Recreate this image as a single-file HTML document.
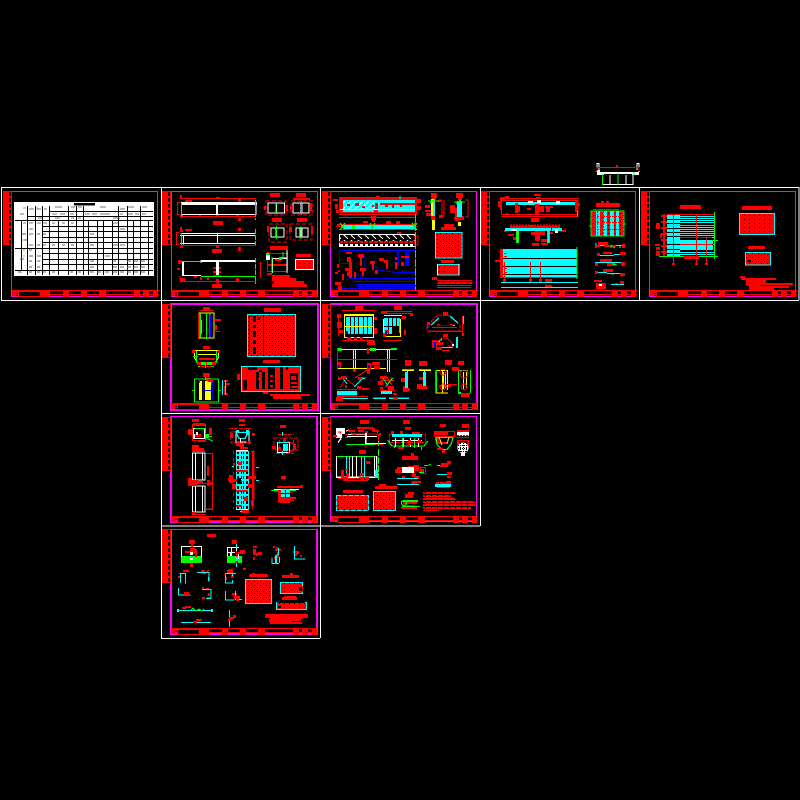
<!DOCTYPE html>
<html><head><meta charset="utf-8"><title>CAD sheets</title>
<style>html,body{margin:0;padding:0;background:#000}svg{display:block}</style></head>
<body>
<svg xmlns="http://www.w3.org/2000/svg" width="800" height="800" viewBox="0 0 800 800" shape-rendering="crispEdges" fill="none">
<defs>
<pattern id="rt" width="6" height="4" patternUnits="userSpaceOnUse"><rect width="6" height="4" fill="#f00"/><rect x="5" y="3" width="1" height="1" fill="#000"/><rect x="2" y="1" width="1" height="1" fill="#000"/></pattern>
<pattern id="rd" width="5" height="4" patternUnits="userSpaceOnUse"><rect width="5" height="4" fill="#f00"/><rect x="4" y="3" width="1" height="1" fill="#000"/></pattern>
<pattern id="tx" width="6" height="3" patternUnits="userSpaceOnUse"><rect width="6" height="2" fill="#f00"/><rect x="5" width="1" height="1" fill="#000"/></pattern>
<pattern id="st" width="4" height="6" patternUnits="userSpaceOnUse"><rect width="4" height="6" fill="#f00"/><rect x="1" y="1" width="2" height="4" fill="#000"/></pattern>
<pattern id="ha" width="6" height="6" patternUnits="userSpaceOnUse"><rect width="6" height="6" fill="#0ff"/><path d="M0 6L6 0" stroke="#fff" stroke-width="1.2"/></pattern>
<pattern id="hw" width="7" height="5" patternUnits="userSpaceOnUse"><path d="M1 0L5 4" stroke="#fff" stroke-width="1.2"/></pattern>
<pattern id="gc" width="5" height="5" patternUnits="userSpaceOnUse"><rect width="5" height="5" fill="#0ff"/><rect x="1" y="1" width="3" height="3" fill="#000"/></pattern>
<g id="f">
<rect x="-9" y="0" width="5" height="54" fill="#f00"/>
<rect x="-4" y="0" width="4" height="54" fill="url(#st)"/>
<path d="M0 99.500H147M0 103.500H147" stroke="#f00"/>
<path fill="#f00" d="M0 100h8v2h-4v3h-4zM29 100h9v6h-9zM51 100h6v6h-6zM69 100h6v6h-6zM87 100h7v6h-7zM122 100h6v6h-6zM131 100h6v6h-6zM141 100h5v6h-5z"/>
<rect x="6.500" y="100.500" width="22" height="5" fill="#000" stroke="#f00"/>
</g>
</defs>
<rect width="800" height="800" fill="#000"/>

<!-- bridge -->
<path d="M597 163v9M599 163v7M637 163v7M639 163v9M597 163.500h2M637 163.500h2M602 184.500h31M610 175v9M626 175v9M633 175v10" stroke="#fff"/>
<path fill="#fff" d="M597 170h3v5h-3zM597 172h7v3h-7zM632 172h7v3h-7zM604 172h28v2h-28z"/>
<path d="M597 167.500H639M597 167v4M639 167v4" stroke="#f00" stroke-width="1.2"/>
<path d="M602.500 174v11M618 173v12M634 172v3" stroke="#0f0" stroke-width="1.3"/>
<path fill="#f00" d="M616 165h2v2h-2z"/>

<!-- frames -->
<path d="M1 187.500H799M1 300.500H799M161 413.500H480M161 526H480M161 638.500H320M1.500 187V300M161.500 187V638M320.500 187V638M480.500 187V526M639.500 187V300M799 187V300" stroke="#fff" stroke-width="1"/>
<path fill="#f0f" fill-rule="evenodd" d="M11 191H158V297H11zM12 192V296H157V192zM171 191H318V297H171zM172 192V296H317V192zM330 191H477V297H330zM331 192V296H476V192zM489 191H636V297H489zM490 192V296H635V192zM649 191H796V297H649zM650 192V296H795V192zM170 303H319V411H170zM172 305V409H317V305zM330 303H478V410H330zM331 305V409H476V305zM170 416H318V523H170zM172 417V521H316V417zM330 416H477V522H330zM331 417V521H476V417zM170 529H318V635H170zM172 530V633H316V530z"/>
<use href="#f" x="12" y="191"/><use href="#f" x="171" y="191"/><use href="#f" x="331" y="191"/><use href="#f" x="490" y="191"/><use href="#f" x="650" y="191"/>
<use href="#f" x="171" y="304"/><use href="#f" x="331" y="304"/>
<use href="#f" x="171" y="417"/><use href="#f" x="331" y="417"/>
<use href="#f" x="171" y="529"/>

<!-- sheet 1 table -->
<rect x="14" y="202" width="140" height="74" fill="#fff"/>
<rect x="74" y="203" width="21" height="2.400" fill="#000"/>
<path d="M15 220.500H153M43 226.500H153M43 231.500H153M43 237.500H153M43 242.500H153M15 248.500H153M43 253.500H153M43 259.500H153M43 264.500H153M15 270.500H153M49 211.500H153M27 216.500H153" stroke="#000" stroke-width="1"/>
<path d="M27.500 206V275M35.500 206V275M42.500 206V275M49.500 206V275M58.500 220V275M68.500 206V275M76.500 206V275M83.500 206V275M88.500 220V275M97.500 220V275M103.500 220V275M112.500 220V275M118.500 206V275M127.500 206V275M133.500 220V275M140.500 206V275M148.500 220V275M21.500 220V270" stroke="#000" stroke-width="1"/>
<path d="M29 209h5M37 209h4M44 209h3M55 207h7M71 207h4M78 207h4M100 207h6M120 209h5M128 207h6M142 207h5M52 214h5M60 214h5M70 214h4M85 214h5M92 214h5M100 214h5M105 214h5M120 214h3M128 214h5M135 214h4M142 214h4M38 218h4M55 218h5M71 218h3M78 218h3M113 218h7M20 214h4M23 223h3M29 223h4M37 223h4M43 223h4M52 223h3M62 223h3M71 223h3M113 223h5" stroke="#777" stroke-width="1"/>
<path d="M22 234h4M29 229h4M29 234h4M37 234h3M43 234h3M90 234h4M120 229h5M24 240h3M29 245h4M37 245h3M43 245h3M52 245h3M62 245h3M71 245h3M90 245h4M113 245h5M120 245h5M29 250h3M29 256h4M37 256h4M105 256h5M20 259h4M29 261h3M37 261h3M90 261h4M113 261h3M127 261h4M134 261h4M141 261h4M29 267h3M37 267h3M90 267h4M113 267h4M120 267h4M127 267h4M134 267h4M141 267h4M18 272h4M29 272h3M37 272h3M43 272h3M52 272h3M70 272h3M78 272h3M90 272h4M97 272h4M105 272h4M113 272h4M120 272h4M127 272h4M134 272h4M141 272h4" stroke="#666" stroke-width="1"/>
<path d="M23 208h3M36 208h2M46 229h1M22 240h2M23 250h2M23 256h2" stroke="#e90" stroke-width="1.200"/>

<!-- sheet 2 -->
<path d="M181 202h76v3h-76z" fill="#fff"/>
<rect x="181.500" y="203" width="74.500" height="11.500" stroke="#fff"/>
<path d="M217 204v10.500" stroke="#fff" stroke-width="2"/>
<path d="M180 198.500H256M181 216.500H256M177.500 202V214M177 202.500h3M177 214.500h3M180 233.500H256M181 245.500H256M176.500 232V244M176 232.500h3M176 244.500h3M180 281.500H256M260.500 262V278M180 276v5" stroke="#f00"/>
<path fill="#f00" d="M213 221h10v4h-10zM216 197h4v2h-4zM238 199h3v3h-3zM185 200h7v2h-7zM180 215h3v3h-3zM199 215h2v2h-2zM216 215h3v2h-3zM236 215h3v2h-3zM238 218h3v3h-3zM180 195h2v3h-2zM212 249h10v4h-10zM238 228h3v3h-3zM180 230h3v2h-3zM185 229h7v2h-7zM180 246h3v2h-3zM216 246h3v2h-3zM238 247h3v4h-3zM180 227h2v3h-2zM212 284h10v4h-10zM213 267h8v2h-8zM213 271h8v2h-8zM213 275h8v2h-8zM180 278h5v4h-5zM194 276h3v2h-3zM200 277h2v3h-2zM207 277h2v3h-2zM216 279h3v4h-3zM236 278h3v3h-3zM178 260h3v4h-3zM177 268h3v2h-3z"/>
<path d="M181 233.500h75M180 235.500h76M183.500 235v9.500M180 243.500h76M217.500 233v11" stroke="#fff"/>
<path fill="#fff" d="M201 260h55v2h-55zM182 262h2v14h-2zM216 262h3v13h-3z"/>
<path d="M183 275.500h18M201 260v3" stroke="#fff"/>
<path d="M181 261.500h19" stroke="#0f0" stroke-width="1.400"/><path d="M201 276.500h55" stroke="#0f0"/>
<path d="M181.500 203v13M181.500 233v12" stroke="#0f0" stroke-width="1.200"/>
<path d="M255.500 200v20M255.500 229v16M255.500 258v26" stroke="#0f0" stroke-width="1" stroke-dasharray="5 1"/>
<!-- sections -->
<rect x="268" y="203" width="8" height="10" stroke="#fff" stroke-width="1.200"/><rect x="276.500" y="203" width="8" height="10" stroke="#fff" stroke-width="1.200"/>
<rect x="293" y="203" width="8" height="10" stroke="#fff" stroke-width="1.200"/><rect x="302" y="203" width="7" height="10" stroke="#fff" stroke-width="1.200"/>
<rect x="271" y="228" width="5" height="9" stroke="#fff"/><rect x="276" y="228" width="8" height="9" stroke="#fff" stroke-width="1.200"/>
<rect x="296" y="228" width="4" height="9" stroke="#fff"/><rect x="302" y="228" width="6" height="9" stroke="#fff" stroke-width="1.200"/>
<path d="M276 203v10M301.500 201v14M276.500 226v13M301 226v13" stroke="#0f0" stroke-width="1.200"/>
<path d="M266 201H286V215H266zM291 201H313V215H291zM269 224H287V242H269zM290 224H312V240H290z" stroke="#f00" stroke-dasharray="4 2"/>
<path fill="#f00" d="M270 193h10v4h-10zM296 193h10v4h-10zM293 198h17v2h-17zM272 218h10v4h-10zM297 218h10v4h-10zM264 206h2v4h-2zM290 206h3v4h-3zM267 226h2v6h-2zM289 227h3v5h-3zM311 226h2v8h-2zM286 205h2v6h-2zM310 203h2v8h-2z"/>
<!-- detail -->
<path fill="#f00" d="M270 246h18v4h-18zM267 252h3v3h-3zM267 264h20v2h-20zM275 259h6v2h-6z"/><path d="M267 253.500h20M287.500 252v19M267.500 255v17M267 271.500h20" stroke="#f00"/>
<path d="M272 258.500h15M272.500 258v15M287 250v23" stroke="#fff"/><path d="M272 257v16M279 257.500h8M283 252v7" stroke="#0f0" stroke-width="1.300"/><rect x="266" y="255" width="4" height="5" fill="#fff"/>
<path fill="#0f0" d="M266 253h3v2h-3zM279 258h3v2h-3z"/>
<rect x="296" y="260" width="17" height="9" fill="url(#rd)"/><rect x="295.500" y="259.500" width="18" height="10" stroke="#fff"/>
<path fill="#f00" d="M296 254h15v3h-15zM267 273h5v2h-5zM272 275h18v3h-18zM272 278h24v3h-24zM274 281h30v3h-30zM272 284h35v3h-35z"/>

<!-- sheet 3 -->
<rect x="339" y="197" width="78" height="18" fill="#f00"/>
<rect x="343" y="200" width="72" height="12" fill="#0ff"/>
<rect x="343" y="201" width="36" height="9" fill="url(#ha)"/>
<path fill="#f00" d="M375 203h3v7h-3zM380 203h35v2h-35zM385 205h3v2h-3zM392 205h2v3h-2zM400 205h2v2h-2zM347 204h3v2h-3zM355 203h4v3h-4zM362 206h3v2h-3zM372 205h2v2h-2zM376 196h4v2h-4zM374 210h4v3h-4zM333 199h5v2h-5zM335 204h3v5h-3zM336 210h3v3h-3zM417 199h4v4h-4zM417 206h4v4h-4z"/>
<path d="M340 209.500h75" stroke="#fff" stroke-width="1.400"/><path d="M339 213.500h76M339 216h78" stroke="#000" stroke-width="1"/>
<path d="M339 217.500h76" stroke="#f00"/><path d="M345.500 200v12M400 196v3" stroke="#0ff"/>
<path fill="#f00" d="M371 216h5v4h-5zM372 220h3v2h-3zM386 221h5v3h-5zM363 221h5v2h-5zM396 221h4v3h-4zM337 224h3v2h-3z"/>
<path d="M340 224.500H417M339 229.500H417M336 226.500H418" stroke="#f00"/>
<rect x="343" y="225" width="72" height="4" fill="#0ff"/><rect x="352" y="225" width="3" height="4" fill="#0f0"/>
<path d="M340 223l5 7M345 223l-5 7M375 223l-5 7M370 223l5 7M417 223l-5 7M412 223l5 7" stroke="#0f0" stroke-width="1.200"/>
<rect x="339.500" y="234.500" width="76" height="12" stroke="#fff"/>
<rect x="340" y="235" width="75" height="6" fill="url(#hw)"/>
<path d="M339 242h77" stroke="#f00" stroke-width="2" stroke-dasharray="4 1"/><path d="M340 245h76" stroke="#fff" stroke-width="2" stroke-dasharray="3 2"/>
<path d="M415 236h3v9h-3z" stroke="#f00"/><path fill="#f00" d="M397 232h4v2h-4z"/>
<!-- blue -->
<path d="M339 250.500H415M339.500 250v13M393 272.500H415M350 278.500H415M353 281.500H415M355 284.500H415M357 286.500H415M336 288.500H415M339 263.500h10M365 256v12M372 262l6 8 15 2M351 270l10 7" stroke="#00f"/>
<path fill="#00f" d="M405 252h4v14h-4zM397 252h2v14h-2z"/>
<path fill="#f00" d="M346 252h6v2h-6zM358 254h6v4h-6zM360 258h2v8h-2zM347 257h4v5h-4zM349 262h3v6h-3zM370 261h5v3h-5zM372 264h2v6h-2zM379 258h5v3h-5zM384 260h4v3h-4zM386 263h2v6h-2zM395 257h2v3h-2zM395 262h2v7h-2zM401 256h8v2h-8zM345 268h6v3h-6zM347 272h3v4h-3zM335 272h3v2h-3zM360 268h6v3h-6zM362 271h2v5h-2zM338 270h2v2h-2zM342 274h2v6h-2zM349 268h3v10h-3zM335 282h6v3h-6zM337 264h2v4h-2zM338 286h4v4h-4zM354 272h2v6h-2zM375 270h3v4h-3zM401 262h3v4h-3z"/>
<path d="M415.500 214V290" stroke="#0f0" stroke-width="1" stroke-dasharray="8 1"/><path d="M415 225v-3" stroke="#0f0"/>
<!-- column sections -->
<path fill="#f00" d="M431 193h6v5h-6zM432 198h4v2h-4zM456 193h7v5h-7zM458 198h4v2h-4zM425 205h5v3h-5zM425 210h6v2h-6zM426 213h5v3h-5zM450 205h5v3h-5zM450 208h7v5h-7zM455 213h4v8h-4zM439 215h4v3h-4zM438 200h3v2h-3zM454 217h4v2h-4zM431 204h2v14h-2zM456 216h8v4h-8z"/>
<rect x="431" y="199" width="4" height="19" fill="#ff0"/><rect x="432" y="218" width="3" height="12" fill="#ff0"/><rect x="431" y="216" width="4" height="4" fill="#f00"/>
<rect x="433" y="201" width="2" height="15" fill="#0ff"/>
<rect x="457" y="201" width="5" height="16" fill="#0ff"/><rect x="458" y="222" width="3" height="4" fill="#ff0"/>
<path d="M428 201h11M430 203l5-4M454 202h11M456 204l5-4" stroke="#0f0" stroke-width="1.200"/>
<path d="M442 200h-3M442 200v17M442 217h-3M465 200h3v17h-3M444 200V217" stroke="#f00"/>
<rect x="435.500" y="232.500" width="26.500" height="25.500" fill="url(#rt)" stroke="#0ff" stroke-width="1"/>
<path fill="#f00" d="M441 227h15v3h-15zM444 224h10v3h-10zM441 260h13v3h-13zM432 277h5v3h-5z"/>
<rect x="437.500" y="264.500" width="21.500" height="10.500" fill="url(#rd)" stroke="#0ff"/>
<path d="M437.500 264v11M459 264v11" stroke="#fff"/>
<path fill="url(#tx)" d="M437 280h35v4h-35z"/><path d="M437 285.500h34M437 287.500h34" stroke="#f00"/>

<!-- sheet 4 -->
<path d="M501 198.500H578M501 200.500H578M501 214.500H578M501 216.500H578M501.500 198v17M578 198v17" stroke="#f00"/>
<rect x="506" y="202" width="71" height="3" fill="#0ff"/>
<path fill="#fff" d="M528 201h5v2h-5zM537 200h4v3h-4zM556 201h4v3h-4z"/>
<path fill="#f00" d="M500 197h5v4h-5zM498 201h3v6h-3zM536 197h5v2h-5zM534 194h7v2h-7zM535 204h4v10h-4zM539 206h5v6h-5zM545 206h8v2h-8zM546 208h4v4h-4zM527 208h4v2h-4zM517 206h3v6h-3zM575 200h3v12h-3zM578 203h2v3h-2zM505 196h4v2h-4zM515 203h3v10h-3zM500 204h2v6h-2zM506 213h2v2h-2z"/>
<path d="M577.500 211v6" stroke="#0f0" stroke-width="1.200"/>
<path fill="#f00" d="M531 218h8v4h-8zM530 225h5v3h-5zM531 232h6v3h-6zM535 229h10v6h-10zM510 226h50v2h-50zM508 234h6v2h-6zM504 230h3v2h-3zM513 237h6v3h-6zM532 243h7v3h-7zM535 235h5v6h-5zM541 239h8v3h-8zM541 243h7v2h-7zM547 232h6v2h-6zM561 230h5v2h-5z"/>
<rect x="505" y="228" width="46" height="3" fill="#0ff"/><rect x="511" y="229" width="6" height="2" fill="#fff"/>
<rect x="552" y="228" width="10" height="3" fill="#0ff"/><rect x="555" y="229" width="3" height="4" fill="#fff"/>
<path d="M510 226h51" stroke="#f00" stroke-width="3" stroke-dasharray="2 1"/>
<path d="M517.500 231v12M548.500 231v12" stroke="#0f0" stroke-width="3"/><path d="M517.500 231v11M548.500 231v11" stroke="#0ff"/>
<rect x="501" y="249" width="76" height="28" fill="#0ff"/>
<path d="M502 258.500H577M502 266.500H577M502 274.500H577" stroke="#000" stroke-width="1"/>
<rect x="500" y="249" width="3" height="28" fill="#f00"/><path d="M504 253.500h3M504 256.500h3M504 268.500h3M504 272.500h3M500 277.500H577" stroke="#f00"/>
<path d="M577 247V279" stroke="#0f0" stroke-width="1.200"/>
<path d="M504.500 262v18M530.500 262v18M540.500 262v18" stroke="#f00"/>
<path fill="#f00" d="M495 260h8v2h-8zM503 279h3v3h-3zM529 279h3v3h-3zM539 279h3v3h-3zM545 279h7v3h-7zM545 285h7v3h-7z"/>
<path d="M501 282.500H578M501 287.500H578" stroke="#0ff" stroke-width="1"/>
<rect x="591" y="211" width="33" height="25" fill="url(#rt)" stroke="#0f0" stroke-width="1.200"/>
<path fill="#0ff" d="M596 211h4v25h-4zM603 211h4v25h-4zM610 211h4v25h-4zM616 211h3v25h-3z"/>
<path d="M591 216.500H624M591 222.500H624M591 229.500H624M597.500 211v25M603.500 211v25M609.500 211v25M615.500 211v25" stroke="#f00" stroke-dasharray="2 1"/>
<path fill="#f00" d="M596 203h24v4h-24zM593 209h26v1h-26zM601 201h3v2h-3zM606 201h3v2h-3z"/>
<path d="M589 226h3M623 224h3" stroke="#0f0"/>
<path d="M596 245.500H625M598 255.500h16M614 254.500h11M595 262.500H625M595 272.500h12M607 273.500h18M620 245v3M596 243v5" stroke="#0ff" stroke-width="1"/>
<path fill="#f00" d="M598 242h10v3h-10zM596 245h4v2h-4zM622 244h3v4h-3zM604 245h12v2h-12zM603 252h9v2h-9zM597 253h3v3h-3zM620 252h6v3h-6zM600 259h12v3h-12zM607 263h8v3h-8zM595 263h3v3h-3zM621 262h4v4h-4zM603 269h10v3h-10zM595 271h3v3h-3zM620 273h5v3h-5zM594 280h8v2h-8zM596 283h10v6h-10zM615 283h3v2h-3zM620 281h4v3h-4z"/>
<path d="M611 246l4 2M611 274h3M612 264l5 1M611 245v3" stroke="#0f0"/>
<path d="M611 284.500H624" stroke="#0ff" stroke-width="1"/><path fill="#fff" d="M599 284h3v2h-3z"/>

<!-- sheet 5 -->
<rect x="667" y="214" width="47" height="42" fill="#000"/>
<rect x="667" y="214" width="13" height="42" fill="#0ff"/>
<rect x="667" y="240" width="46" height="10" fill="#0ff"/>
<path d="M680 216.500H714M680 218.500H714M680 220.500H714M680 222.500H714M680 227.500H714M680 229.500H714M680 231.500H714M680 233.500H714M680 235.500H714M680 237.500H714M680 244.500H714M680 252.500H714M680 254.500H714" stroke="#0ff" stroke-width="1"/>
<path d="M667 219.500H680M667 223.500H680M667 228.500H680M667 232.500H680M667 236.500H680M667 244.500H713M667 249.500H680M667 253.500H680" stroke="#000" stroke-width="1"/>
<path d="M661 214.500H714M673.500 214V264M696.500 214V264M706.500 238V264M680 237.500H712M680 244.500H712" stroke="#f00" stroke-width="1"/>
<rect x="661" y="214" width="6" height="43" fill="url(#st)"/>
<path d="M714.500 212V259" stroke="#0f0" stroke-width="1"/><path d="M667 225.500H714M659 256.500H718M712 240.500h6" stroke="#0f0" stroke-width="1"/>
<path fill="#f00" d="M680 205h21v4h-21zM656 223h4v6h-4zM660 234h2v4h-2zM655 244h5v2h-5zM656 247h4v3h-4zM656 251h4v5h-4zM684 256h15v3h-15zM672 263h3v2h-3zM695 263h3v2h-3zM705 263h3v2h-3z"/>
<rect x="739.500" y="213.500" width="35" height="21" fill="url(#rd)" stroke="#0ff" stroke-width="1"/>
<path fill="#f00" d="M742 206h30v4h-30zM748 246h17v3h-17zM740 276h5v2h-5zM741 278h5v2h-5zM746 278h30v2h-30zM746 280h20v3h-20zM746 283h14v3h-14zM746 283h47v2h-47zM749 286h40v2h-40zM749 287h25v3h-25z"/>
<rect x="745.500" y="252.500" width="25" height="12.500" fill="url(#rt)" stroke="#0ff" stroke-width="1"/>
<rect x="746.500" y="259.500" width="5" height="3" fill="#000" stroke="#f00"/>

<!-- row2 left -->
<rect x="199" y="313" width="15" height="25" stroke="#ff0" stroke-width="1.200"/>
<path d="M200.500 313v25M210 313v25" stroke="#0f0" stroke-width="1.200"/><path d="M206.500 313v26" stroke="#0f0"/>
<path d="M211 316v21" stroke="#00f" stroke-width="2"/><path d="M201.500 320v14" stroke="#0ff"/><path d="M203.500 318v14" stroke="#00f"/>
<path d="M199 310.500h15M214 320.500h4M214 331.500h6M198.500 313v26" stroke="#f00"/>
<path fill="#f00" d="M203 307h7v4h-7zM214 319h7v2h-7zM215 325h2v5h-2zM215 331h5v1h-5zM203 346h7v3h-7zM203 373h7v4h-7zM206 378h5v3h-5z"/>
<path d="M194.500 350.500h24v7l-3 5h-18l-3-5zM198 354.500h18" stroke="#ff0" stroke-width="1.200"/>
<path d="M193 356.500h5M216 356.500h3M198 366.500h16M205.500 363v5M196.500 351v12M216.500 351v12" stroke="#0f0"/>
<path fill="#f00" d="M192 350h3v3h-3zM218 350h2v3h-2zM199 358h16v2h-16zM197 362h19v3h-19zM200 366h12v1h-12z"/><path fill="#0f0" d="M201 362h5v3h-5zM207 362h5v3h-5z"/>
<rect x="194.500" y="379" width="24" height="23" stroke="#0f0" stroke-width="1.200"/>
<path d="M192 390.500h3M218 390.500h3M205.500 377v3" stroke="#0f0"/>
<path fill="#ff0" d="M199 381h3v19h-3zM205 381h3v19h-3zM208 381h3v19h-3z"/><path d="M203.500 381v19M203 390.500h10M212.500 381v19" stroke="#00f"/>
<path d="M211.500 378v7M199.500 380v3" stroke="#f00"/><path fill="#f00" d="M208 379h5v3h-5zM224 380h4v2h-4zM225 383h5v2h-5zM224 386h2v7h-2zM224 393h4v2h-4z"/>
<path d="M222.500 380v15M225.500 380v15" stroke="#0ff"/>
<rect x="247.500" y="314.500" width="48" height="42" fill="url(#rt)" stroke="#0ff" stroke-width="1"/>
<path fill="#000" d="M249 316h1v38h-1zM253 316h3v38h-3zM258 317h2v3h-2zM263 315h1v40h-1z"/><path fill="#f00" d="M253 322h3v3h-3zM253 328h3v3h-3zM253 344h3v3h-3zM253 337h3v3h-3z"/>
<path fill="#f00" d="M264 308h17v4h-17zM263 360h17v3h-17zM263 392h5v2h-5zM270 394h40v2h-40zM273 396h28v3h-28z"/>
<rect x="241.500" y="366.500" width="59" height="25" fill="#f00" stroke="#0ff" stroke-width="1"/>
<path fill="#000" d="M248 367h9v3h-9zM256 372h3v17h-3zM262 372h3v17h-3zM268 367h7v22h-7zM280 367h3v22h-3zM286 367h2v3h-2zM290 373h8v16h-8zM243 380h4v10h-4zM259 370h3v2h-3z"/><path fill="#f00" d="M258 378h4v2h-4zM270 375h3v2h-3zM270 380h3v2h-3zM270 385h3v2h-3zM291 376h5v4h-5zM291 382h6v2h-6zM291 386h7v2h-7z"/>
<path fill="#f00" d="M237 374h3v6h-3z"/>

<!-- row2 right -->
<rect x="344.500" y="314.500" width="29" height="23" stroke="#ff0" stroke-width="1.200"/>
<rect x="346" y="317" width="26" height="9" fill="#0ff"/><rect x="346" y="327" width="26" height="7" fill="#0ff"/>
<path d="M350.500 317v17M354.500 317v17M358.500 317v17M363.500 317v17M367.500 317v17" stroke="#000"/><path d="M344 326.500h29M344 315.500h29" stroke="#ff0"/>
<path d="M342 310.500H375M338.500 314v22M342 340.500H374" stroke="#f00"/>
<path fill="#f00" d="M355 306h8v4h-8zM337 314h4v4h-4zM337 322h5v6h-5zM339 330h4v3h-4zM374 317h3v3h-3zM374 328h3v6h-3zM347 337h4v3h-4zM354 337h3v3h-3zM360 337h3v3h-3zM394 306h8v4h-8z"/>
<rect x="383.500" y="319.500" width="17" height="17" stroke="#ff0" stroke-width="1.200"/><path d="M384 315.500h18" stroke="#ff0" stroke-width="1.200"/>
<rect x="384" y="318" width="15" height="8" fill="#0ff"/><rect x="384" y="327" width="9" height="7" fill="#0ff"/>
<path d="M388.500 318v16M392.500 318v16M396.500 318v8" stroke="#000"/><path d="M399.500 318v15" stroke="#0f0" stroke-width="1.200"/>
<path d="M382 311.500H412M382 313.500H410M383 340.500H402M401 318.500h5" stroke="#f00"/>
<path fill="#f00" d="M381 311h6v3h-6zM410 313h3v3h-3zM402 316h4v3h-4zM385 330h4v3h-4zM383 333h3v4h-3zM404 330h2v5h-2z"/>
<path fill="#00f" d="M385 331h2v3h-2zM346 331h2v3h-2z"/>
<path d="M427 325l11-10h10l12 10v6h-33z" stroke="#f00" stroke-dasharray="4 1"/>
<path d="M432 327.500h25M429 331.500H463M462.500 316v20" stroke="#f00"/>
<path d="M431 325l8-7M458 323l-8-7M437 325.500h18M463.500 316v8" stroke="#0ff" stroke-width="1.200"/>
<path fill="#f00" d="M443 312h5v4h-5zM427 322h3v6h-3zM437 324h3v2h-3zM450 324h3v2h-3zM462 333h2v3h-2z"/><path fill="#00f" d="M428 325h2v3h-2zM438 325h15v1h-15z"/>
<path d="M432 346l10-8h5l6 6v2h-5M436 347.500h17" stroke="#f00"/><path d="M435 345l7-6M441 347.500h12" stroke="#0ff"/><path d="M452 345h2" stroke="#fff" stroke-width="2"/>
<path fill="#f00" d="M436 342h7v3h-7zM443 334h5v3h-5zM432 340h5v8h-5zM436 347h6v3h-6zM442 350h8v1h-8z"/><path fill="#00f" d="M434 342h2v6h-2z"/>
<rect x="456" y="337" width="2" height="11" fill="#0ff"/>
<path d="M337 349.500H397" stroke="#ff0" stroke-width="1.200"/>
<path d="M337 368.500H368M368 368.500H386M353.500 349v22M355.500 349v22M387.500 349v23M389.500 349v23" stroke="#ff0" stroke-width="1.200"/>
<path fill="#0f0" d="M337 348h5v3h-5zM370 348h6v3h-6zM391 348h6v2h-6z"/>
<path d="M337 359.500H397M337.500 349v21" stroke="#f00"/>
<path fill="#f00" d="M367 341h8v4h-8zM337 362h4v6h-4zM367 363h4v6h-4zM372 362h8v3h-8zM374 366h6v3h-6zM367 369h3v5h-3zM353 369h3v3h-3zM367 348h2v6h-2z"/><path fill="#00f" d="M338 365h2v3h-2zM368 365h2v3h-2z"/>
<path fill="#f00" d="M405 360h6v6h-6zM419 361h8v5h-8zM445 360h7v5h-7zM458 361h6v4h-6zM452 367h7v3h-7zM401 378h4v4h-4zM403 386h5v6h-5zM419 377h6v3h-6zM417 384h5v5h-5zM439 385h12v2h-12z"/>
<path d="M402 370.500H414M407.500 370v14M419 370.500h12M424.500 370v14" stroke="#ff0" stroke-width="1.200"/><path d="M402 369.500h12M419 369.500h12" stroke="#0f0"/>
<rect x="405" y="372" width="3" height="16" fill="#0ff"/><rect x="423" y="372" width="3" height="14" fill="#0ff"/>
<path fill="#f00" d="M405 388h5v3h-5zM422 386h5v3h-5z"/>
<path d="M436 370.500V393h12M436 370.500h12M442.500 370v23M447.500 370v20" stroke="#ff0" stroke-width="1.200"/><path d="M436.500 370v22M468 370.500h-10M458 392.500h3M470.500 370v23M458.500 370v24M458 393.500h12" stroke="#0f0" stroke-width="1.200"/>
<path d="M443.500 372v17M445.500 372v17M463.500 372v17M466.500 372v17" stroke="#ff0"/>
<circle cx="443" cy="372" r="3" stroke="#f00"/><circle cx="443" cy="387" r="3" stroke="#f00"/><circle cx="464" cy="374" r="4" stroke="#f00"/><circle cx="464" cy="387" r="3" stroke="#f00"/>
<path d="M447 384.500h10" stroke="#f00"/><path fill="#f00" d="M452 368h7v3h-7zM461 393h8v4h-8z"/>
<path d="M340 388l5-8M355 378l12-8M345 378l10 8M338 378.500h5M358 377.500h8M341 377l6-1" stroke="#f00"/>
<path d="M342 377l5 7M363 378l-9 9M338 377l3 2M362 378.500h3M347 379l-2-2" stroke="#0ff"/>
<rect x="337" y="391" width="20" height="4" fill="#0ff"/><rect x="381" y="391" width="11" height="3" fill="#0ff"/>
<path d="M337 389.500h20M337 395.500h20M337 396.500h31M373 397.500h13M389 397.500h20" stroke="#f00"/><path d="M342 398.500H368M373 398.500H386M389 398.500H409" stroke="#0ff"/>
<path fill="#f00" d="M336 397h7v4h-7zM342 376h4v3h-4zM338 377h3v3h-3zM358 378h3v2h-3zM345 385h2v3h-2zM362 388h7v2h-7zM380 376h7v3h-7zM378 381h5v4h-5zM388 386h6v5h-6zM380 387h3v2h-3zM393 393h4v2h-4zM393 397h5v3h-5zM357 386h4v3h-4z"/>
<path d="M381 380.500h13M386 376l6 9M392 377l-7 11M380 390.500h15" stroke="#f00"/><path d="M383 378l5 8M393 378l-7 8" stroke="#0f0"/>

<!-- row3 left -->
<rect x="192.500" y="424.500" width="13" height="16" stroke="#f00"/><rect x="193.500" y="428.500" width="11" height="10" stroke="#fff"/>
<path fill="#f00" d="M192 419h7v3h-7zM193 423h12v3h-12zM188 429h4v6h-4zM209 428h3v7h-3zM193 434h8v3h-8zM198 440h8v2h-8z"/>
<path fill="#fff" d="M193 434h2v5h-2zM196 432h2v3h-2z"/>
<path d="M195 428.500h10M205.500 428v5M205 439h3l5 2M208 436.500h4" stroke="#0f0" stroke-width="1.200"/><path fill="#0f0" d="M205 434h4v4h-4z"/>
<path d="M231 432h18v11h-18zM229 428.500h22M235.500 428v2M248.500 428v2" stroke="#f00" stroke-dasharray="4 1"/>
<path d="M236 431v12M249 431v10" stroke="#fff" stroke-width="1.300"/><path d="M236 432.500h12l-3 6h-6l-3-6" stroke="#0ff" stroke-width="1.200"/><path d="M240.500 438v4h6" stroke="#fff"/><path fill="#0ff" d="M236 430h3v3h-3zM246 430h3v5h-3z"/>
<path fill="#f00" d="M239 419h6v3h-6zM239 424h6v2h-6zM230 433h3v5h-3zM252 433h3v3h-3zM237 441h3v3h-3zM248 441h3v3h-3zM240 443h2v3h-2zM239 444h5v3h-5z"/>
<!-- right octagon -->
<path d="M274 438h24v12h-24zM278 434.500h16M276 453.500h18M279.500 440v10M293.500 440v10" stroke="#f00" stroke-dasharray="4 1"/><rect x="277.500" y="442.500" width="12" height="10" stroke="#fff"/><path d="M282.500 432v4M282.500 451v4M278 442.500h10" stroke="#0ff" stroke-width="1"/><path fill="#f00" d="M280 425h6v3h-6zM283 438h3v4h-3zM272 446h4v3h-4zM293 444h3v6h-3zM278 447h3v3h-3z"/>
<path fill="#0ff" d="M283 444h5v7h-5z"/>
<path d="M287 441l7 3v6l-6 3" stroke="#f00"/>
<!-- long white -->
<rect x="192.500" y="453" width="12.500" height="27" stroke="#fff" stroke-width="1"/><rect x="192.500" y="486" width="12.500" height="26" stroke="#fff" stroke-width="1"/>
<path d="M195.500 453v27M195.500 486v26M202.500 453v27M202.500 486v26" stroke="#fff"/>
<path d="M193 451.500h12M193 514.500h13M206 453.500h6M212.500 453v56h-6M206 509.500h7" stroke="#f00"/>
<path fill="#f00" d="M192 445h7v3h-7zM192 448h12v4h-12zM188 478h4v8h-4zM190 480h8v6h-8zM198 481h5v3h-5zM203 483h4v1h-4zM207 480h3v6h-3zM207 466h2v10h-2zM192 512h4v3h-4zM210 482h2v3h-2z"/>
<rect x="236.500" y="451.500" width="12" height="58" fill="url(#gc)" stroke="#0ff"/>
<path d="M242.500 451V509" stroke="#0ff" stroke-width="1"/><path d="M236 450.500h12M236 509.500h12" stroke="#fff" stroke-width="1"/>
<path d="M233.500 451v58" stroke="#f00" stroke-dasharray="3 4"/><path d="M252.500 451v58" stroke="#f00"/><path d="M251 451.500h3v48M253.500 450v49" stroke="#f00"/>
<path fill="#f00" d="M236 443h8v3h-8zM240 447h8v2h-8zM236 470h12v2h-12zM236 490h12v2h-12zM233 479h5v3h-5zM229 475h4v8h-4zM228 478h4v3h-4zM234 480h8v2h-8zM248 476h8v3h-8zM248 484h6v4h-6zM238 462h4v3h-4zM244 497h4v4h-4zM232 484h4v5h-4zM241 510h8v3h-8zM251 500h3v6h-3zM236 505h6v2h-6zM233 463h2v2h-2z"/>
<path fill="#000" d="M237 478h4v6h-4z"/><path d="M256 467.500h3M256 480.500h3M232 466.500h2M240 511.500h2" stroke="#0ff"/>
<path fill="#f00" d="M281 476h5v3h-5zM277 486h24v2h-24zM300 485h3v3h-3zM278 491h5v6h-5zM278 497h18v2h-18zM278 499h3v3h-3zM283 497h10v2h-10zM279 499h12v2h-12zM279 500h15v1h-15zM279 501h11v2h-11z"/>
<path d="M272 490.500h24M272 490l6 2M295 490l-3 2M283 492.500h9" stroke="#f00"/>
<path d="M271 490.500h7M288 490.500h8" stroke="#0f0" stroke-width="1.200"/><path d="M274 489.500h25" stroke="#fff"/><rect x="281" y="489" width="9" height="8" fill="#0ff"/><path d="M285.500 490v8M281 493.500h9" stroke="#000"/>

<!-- row3 right -->
<path fill="#fff" d="M336 428h9v6h-3v4h-6z"/>
<path d="M342 436l-4 7M341 439l-3 3M346 431l3-1M346 434.500h20v9h20M365.500 434v10" stroke="#fff"/>
<path d="M338 432h3l-1 2" stroke="#f00"/>
<path fill="#f00" d="M360 420h9v4h-9zM333 435h4v2h-4zM348 430h7v2h-7zM358 430h6v2h-6zM357 427h16v2h-16zM372 428h3v4h-3zM365 431h3v3h-3zM375 430h4v2h-4zM379 433h2v3h-2zM353 433h3v2h-3z"/>
<path d="M351.500 430v4h26v-4M345 434.500h3M345 437.500h6M366 446v2M378.500 434v12M350 444.500h33" stroke="#f00"/>
<path d="M346 444.500h29M378.500 441v5" stroke="#0f0" stroke-width="1.200"/><path d="M347 436.500h30" stroke="#fff"/><path d="M365 433h2v6h-2z" fill="#fff"/>
<rect x="389.500" y="434.500" width="36" height="8" stroke="#f00" stroke-dasharray="4 1"/>
<rect x="392" y="434" width="30" height="3" fill="#0ff"/><path d="M390 441h-2l4 5h32l4-5M394.500 446v2M421.500 447v3M402.500 438v10M414.500 438v10" stroke="#0f0" stroke-width="1.200"/><path d="M395.500 438v9M403.500 438v9M410.500 438v9M418.500 438v9M392 440.500h30" stroke="#fff"/>
<path fill="#f00" d="M403 420h7v4h-7zM405 427h6v3h-6zM400 431h3v3h-3zM412 432h8v2h-8zM391 431h3v3h-3zM408 440h3v5h-3zM418 440h3v3h-3zM398 447h6v2h-6z"/>
<path fill="#f00" d="M440 424h6v3h-6zM434 431h14v4h-14zM435 436h4v6h-4zM437 442h10v2h-10z"/>
<path d="M436 437.500h17l-2 7-4 5h-5l-5-5z" stroke="#0f0" stroke-width="1.200"/><path d="M436 436.500h17" stroke="#fff" stroke-width="1.200"/><path d="M439 437l3 8M449 437l-2 7" stroke="#ff0"/><path d="M434.500 431.500h20v5h-20z" stroke="#f00"/><path fill="#f00" d="M437 448h6v2h-6zM442 450h3v3h-3z"/>
<path fill="#f00" d="M462 424h7v4h-7zM457 430h12v1h-12zM457 440h12v1h-12zM457 441h2v8h-2zM467 441h2v6h-2zM458 432h10v1h-10z"/>
<rect x="457" y="431" width="12" height="5" fill="#fff"/><path d="M457 435.500h12" stroke="#f00" stroke-dasharray="2 1"/>
<path d="M457 431.500h12M457 437.500h12" stroke="#f00"/>
<circle cx="463" cy="448" r="5.500" fill="#fff"/><path d="M458 445.500h10M458 448.500h10M459 451.500h8M460.500 443v10M463.500 443v10M466.500 443v10" stroke="#000" stroke-dasharray="1 1"/><path d="M461 453h4v3h-4z" fill="#fff"/>
<path d="M336 456.500h41M336.500 456v21M377 456v21" stroke="#0f0" stroke-width="1.200"/>
<path d="M336.500 456v21h40V456M336 477.500h41M352.500 456v21M356.500 456v21M374.500 456v20" stroke="#fff"/>
<path d="M346.500 456v21M349.500 456v21M361.500 456v21M364.500 456v21" stroke="#0ff" stroke-width="1"/>
<path d="M378.500 449v32" stroke="#0f0" stroke-width="1" stroke-dasharray="7 1"/>
<rect x="375" y="470" width="3" height="8" fill="#0ff"/>
<path fill="#f00" d="M359 450h7v4h-7zM341 470h3v8h-3zM346 473h3v4h-3zM344 477h4v3h-4zM360 473h4v3h-4zM359 477h8v1h-8zM361 478h3v3h-3zM366 477h3v3h-3zM366 461h4v3h-4zM345 469h3v2h-3z"/>
<path d="M338 478.500h30M343 480.500h25" stroke="#f00"/>
<path fill="#f00" d="M402 456h16v4h-16zM411 453h3v3h-3zM397 467h5v2h-5zM400 470h5v3h-5zM395 469h5v4h-5zM402 476h3v2h-3zM408 466h7v7h-7zM412 472h2v5h-2zM413 465h6v6h-6zM421 469h3v3h-3zM413 474h3v2h-3zM414 476h5v3h-5zM411 482h6v2h-6zM412 481h9v2h-9z"/>
<rect x="402" y="467" width="12" height="6" fill="#fff"/><rect x="420.500" y="467.500" width="5" height="6" stroke="#f00"/>
<path d="M424 465.500h3l4-1M419 472.500h5" stroke="#0f0"/>
<path d="M397 478.500h21M397 484.500h22" stroke="#0ff" stroke-width="1"/>
<path d="M437 465.500h10M437 474.500h10M437 484.500h13" stroke="#0ff" stroke-width="1"/>
<path fill="#f00" d="M441 463h8v2h-8zM447 461h4v3h-4zM440 465h8v2h-8zM447 472h5v3h-5zM447 476h4v2h-4zM440 482h8v3h-8zM446 481h5v4h-5zM436 482h3v3h-3z"/>
<rect x="435" y="484" width="16" height="3" fill="#0ff"/><path d="M437 487.500h13" stroke="#f00"/>
<rect x="336.500" y="495.500" width="32" height="15" fill="url(#rt)" stroke="#0ff" stroke-width="1" stroke-dasharray="5 1"/>
<path fill="#f00" d="M343 490h20v3h-20zM379 484h7v3h-7zM405 494h3v4h-3zM408 492h6v3h-6z"/>
<rect x="373.500" y="491.500" width="22" height="19" fill="url(#rt)" stroke="#0ff" stroke-width="1"/>
<path fill="#f00" d="M375 486h22v3h-22zM403 502h14v2h-14zM407 505h8v4h-8zM406 495h7v3h-7zM401 507h16v2h-16z"/>
<circle cx="404" cy="503" r="2.500" stroke="#0f0" stroke-width="1.300"/><path d="M402 506.500h18M401 501.500h6" stroke="#0f0" stroke-width="1"/><rect x="406" y="500" width="12" height="2" fill="#0f0"/>
<path fill="url(#tx)" d="M423 491h33v4h-33zM423 495h28v3h-28zM423 498h33v3h-33zM423 501h52v2h-52zM423 503h52v3h-52zM423 505h48v4h-48zM423 509h16v2h-16z"/>

<!-- row4 -->
<path fill="#f00" d="M207 534h9v3h-9zM189 540h6v4h-6zM232 540h5v4h-5z"/><path fill="#0f0" d="M181 556h21v7h-21zM227 556h15v7h-15z"/>
<path d="M181.500 557v-10.500h20V557" stroke="#fff" stroke-width="1"/>
<path fill="#f00" d="M190 548h5v6h-5zM195 549h2v8h-2zM185 551h5v2h-5zM190 563h3v4h-3zM191 544h2v3h-2zM240 550h5v4h-5zM238 552h4v2h-4z"/>
<path fill="#fff" d="M190 552h3v3h-3zM190 558h3v2h-3z"/>
<path d="M227 547.500h12M227.500 547v9M231.500 547v9M235 552.500h-7M230.500 552v4M236.500 547v5M238.500 554v5" stroke="#fff"/>
<path d="M236.500 544v4M236.500 555v12" stroke="#0ff"/>
<path fill="#f00" d="M236 551h1v6h-1zM235 561h3v2h-3zM253 546h4v2h-4zM253 549h3v6h-3zM256 553h2v3h-2zM258 552h4v3h-4zM253 557h2v3h-2zM273 546h2v2h-2zM276 547h2v3h-2zM275 549h6v2h-6zM277 552h2v6h-2zM274 557h2v2h-2zM293 551h6v3h-6zM294 554h3v2h-3zM300 555h2v2h-2z"/>
<path d="M278.500 548v6l-3 2v7M276.500 556v7M272 557.500v6h7M279.500 557v6" stroke="#0ff" stroke-width="1"/><path d="M294.500 546v13h11" stroke="#0ff" stroke-width="1"/>
<path d="M180.500 573v10M179.500 573.500h6v10" stroke="#0ff" stroke-width="1"/><path fill="#f00" d="M183 570h6v2h-6zM178 576h2v2h-2zM201 570h4v2h-4zM203 572h3v2h-3zM227 570h6v3h-6zM225 577h2v3h-2zM231 575h3v3h-3zM232 593h5v2h-5zM243 568h3v2h-3z"/><path d="M197 572.500h12v9M208.500 577v4" stroke="#0ff" stroke-width="1"/>
<path d="M225.500 573v10h7v-3M225 573.500h11M232.500 573v3" stroke="#0ff" stroke-width="1"/><path d="M224 574.500h2M206 572l3-2M228 570l5-1" stroke="#f00"/>
<path d="M178.500 588v7h12" stroke="#0ff" stroke-width="1"/><path fill="#f00" d="M184 592h5v3h-5zM202 587h2v2h-2zM206 588h3v1h-3zM202 597h3v2h-3zM207 597h4v2h-4zM208 593h2v3h-2z"/><path d="M202 589.500h9v9M206 598.500h5" stroke="#0ff" stroke-width="1"/>
<path d="M225.500 591v9h9M235.500 591v9M235 599.500h7" stroke="#0ff" stroke-width="1"/><path fill="#f00" d="M234 596h6v3h-6zM236 599h3v2h-3z"/>
<path d="M178 610.500H213" stroke="#0ff" stroke-width="1"/><path d="M191 610l2-2 3 3 3-2 3 2 2-2" stroke="#0f0"/><path fill="#0ff" d="M177 609h2v3h-2zM211 609h2v3h-2z"/><path fill="#f00" d="M185 606h6v2h-6zM182 607h4v2h-4z"/>
<path d="M181 622.500H211" stroke="#0ff" stroke-width="1"/><path fill="#f00" d="M196 619h6v2h-6zM193 621h4v2h-4z"/>
<path d="M229.500 610v17" stroke="#0ff" stroke-width="1"/><path fill="#f00" d="M233 615h3v3h-3zM229 617h5v2h-5zM228 619h3v2h-3z"/>
<rect x="245.500" y="579.500" width="26" height="24" fill="url(#rt)" stroke="#0ff" stroke-width="1"/>
<path fill="#f00" d="M249 574h19v3h-19zM252 573h3v2h-3zM282 575h17v3h-17zM290 573h3v2h-3zM282 597h15v3h-15zM284 596h12v2h-12zM265 614h5v4h-5zM269 614h39v4h-39zM270 617h33v2h-33zM269 619h23v3h-23zM271 619h30v2h-30zM270 622h22v2h-22zM270 622h32v2h-32z"/>
<rect x="280.500" y="582.500" width="22" height="11" fill="url(#rd)" stroke="#0ff" stroke-width="1"/><rect x="298.500" y="586.500" width="4" height="5" fill="#000" stroke="#f00"/>
<rect x="276.500" y="602.500" width="30" height="7" fill="url(#rd)" stroke="#0ff" stroke-width="1"/>
<rect x="277.500" y="605.500" width="4" height="3" fill="#000" stroke="#f00"/><path d="M277 602.500h28" stroke="#000"/>
</svg>
</body></html>
